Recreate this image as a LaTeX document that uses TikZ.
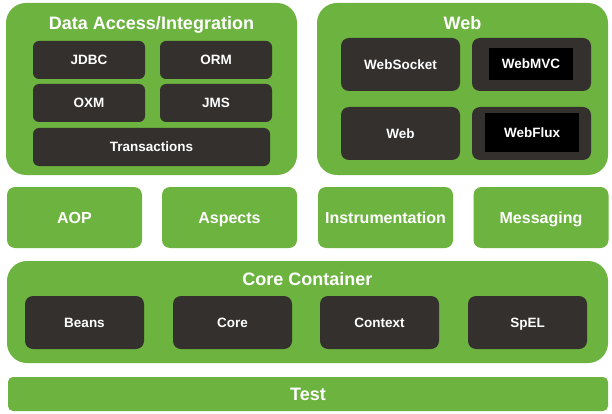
\documentclass[tikz,border=0pt]{standalone}
\usepackage{fontspec}
\setmainfont{Liberation Sans}
\definecolor{springgreen}{HTML}{6DB33F}
\definecolor{springdark}{HTML}{34302D}
\begin{document}
\begin{tikzpicture}[
  x=1pt, y=-1pt,
  every node/.style={align=center, inner sep=0pt, text=white, text height=9.7pt, text depth=0pt, font=\bfseries\fontsize{13.5}{16}\selectfont},
  group/.style={fill=springgreen, rounded corners=20pt, minimum width=291pt, minimum height=172pt},
  layer/.style={fill=springgreen, rounded corners=8pt, minimum width=135pt, minimum height=61pt, text height=11.5pt, font=\bfseries\fontsize{16}{19}\selectfont},
  module/.style={fill=springdark, rounded corners=6pt, minimum width=112pt, minimum height=38pt},
  webmodule/.style={fill=springdark, rounded corners=8pt, minimum width=119pt, minimum height=53pt},
  blackbox/.style={fill=black, minimum width=#1, minimum height=32pt},
  heading/.style={text height=12.9pt, font=\bfseries\fontsize{18}{21}\selectfont}
]
  \useasboundingbox (0,0) rectangle (612,414);

  % Data Access/Integration
  \node[group] (data) at (151.5,89) {};
  \node[heading] (dataTitle) at (151.5,23) {Data Access/Integration};
  \node[module] (jdbc) at (89,60) {JDBC};
  \node[module] (orm) at (216,60) {ORM};
  \node[module] (oxm) at (89,103) {OXM};
  \node[module] (jms) at (216,103) {JMS};
  \node[module, minimum width=237pt] (tx) at (151.5,147) {Transactions};

  % Web
  \node[group] (web) at (462.5,89) {};
  \node[heading] (webTitle) at (462.5,23) {Web};
  \node[webmodule] (websocket) at (400.5,64.5) {WebSocket};
  \node[webmodule] (webmvc) at (531.5,64.5) {};
  \node[blackbox=84pt] (webmvcIn) at (531,64) {WebMVC};
  \node[webmodule] (webweb) at (400.5,133.5) {Web};
  \node[webmodule] (webflux) at (531.5,133.5) {};
  \node[blackbox=94pt, minimum height=39pt] (webfluxIn) at (532,132.5) {WebFlux};

  % middle row
  \node[layer] (aop) at (74.5,217.5) {AOP};
  \node[layer] (aspects) at (229.5,217.5) {Aspects};
  \node[layer] (instr) at (385.5,217.5) {Instrumentation};
  \node[layer] (msg) at (541,217.5) {Messaging};

  % Core Container
  \node[group, minimum width=601pt, minimum height=102pt] (core) at (307.5,312) {};
  \node[heading] (coreTitle) at (307.5,279) {Core Container};
  \node[webmodule] (beans) at (84.5,322.5) {Beans};
  \node[webmodule] (corebox) at (232.5,322.5) {Core};
  \node[webmodule] (context) at (379.5,322.5) {Context};
  \node[webmodule] (spel) at (527.5,322.5) {SpEL};

  % Test
  \node[fill=springgreen, rounded corners=5pt, minimum width=600pt, minimum height=34pt, heading] (test) at (308,394) {Test};
\end{tikzpicture}
\end{document}
